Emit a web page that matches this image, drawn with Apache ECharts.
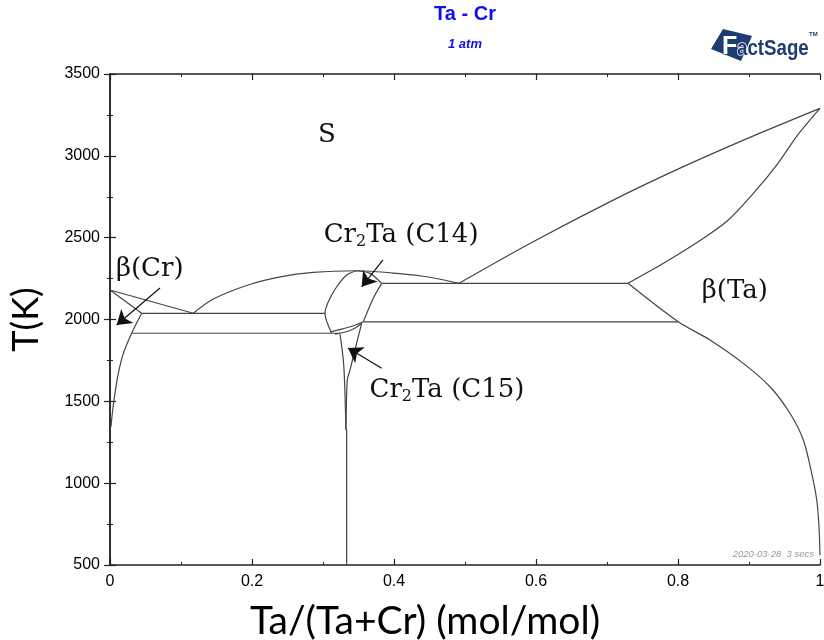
<!DOCTYPE html>
<html><head><meta charset="utf-8">
<script src="https://cdn.jsdelivr.net/npm/echarts@6/dist/echarts.min.js"></script>
<style>html,body{margin:0;padding:0;background:#fff}#c{width:824px;height:640px}</style>
</head><body><div id="c"></div>
<script>
// ---- data: phase boundaries as [x = Ta/(Ta+Cr), T in K] ----
const xTicks = [0, 0.2, 0.4, 0.6, 0.8, 1];
const yTicks = [500, 1000, 1500, 2000, 2500, 3000, 3500];

const liqCr      = [[0, 2180], [0.1173, 2038]];
const solidusCr  = [[0, 2180], [0.0446, 2038]];
const solvusCr   = [[0.0446, 2038], [0.0305, 1916], [0.0188, 1793], [0.0117, 1671], [0.007, 1549], [0.0038, 1447], [0.0014, 1345]];
const dome       = [[0.1173, 2038], [0.1455, 2125], [0.1925, 2208], [0.2394, 2260], [0.2863, 2288], [0.3475, 2298], [0.4038, 2282], [0.4507, 2258], [0.4915, 2221]];
const liqTa      = [[0.4915, 2221], [0.596, 2475], [0.7136, 2740], [0.8075, 2934], [0.9014, 3113], [1, 3290]];
const solidusTa  = [[0.7296, 2221], [0.78, 2345], [0.83, 2480], [0.87, 2605], [0.91, 2790], [0.94, 2950], [0.97, 3135], [1, 3290]];
const solvusTa   = [[0.7296, 2221], [0.8004, 1986], [0.845, 1875], [0.892, 1732], [0.9296, 1589], [0.9577, 1427], [0.9765, 1264], [0.9883, 1060], [0.9954, 897], [0.9986, 734], [1, 560]];
const c14Left    = [[0.3123, 1916], [0.3028, 2038], [0.3075, 2109], [0.3193, 2200], [0.3334, 2272], [0.3475, 2298]];
const c14Top     = [[0.3475, 2298], [0.3662, 2282], [0.3803, 2231], [0.3827, 2221]];
const c14Right   = [[0.3827, 2221], [0.3708, 2130], [0.3568, 1986]];
const c14Bottom  = [[0.31, 1925], [0.325, 1940], [0.343, 1962], [0.3568, 1986]];
const c15Top     = [[0.3169, 1911], [0.333, 1925], [0.346, 1950], [0.3545, 1977]];
const c15Left    = [[0.324, 1911], [0.3286, 1752], [0.3303, 1630], [0.3324, 1325]];
const c15Right   = [[0.3545, 1977], [0.345, 1814], [0.338, 1691], [0.3342, 1630], [0.3324, 1325]];
const cr2taLine  = [[0.3333, 1325], [0.3333, 500]];
const eutectic1  = [[0.0446, 2038], [0.3028, 2038]];
const eutectic2  = [[0.0305, 1916], [0.324, 1916]];
const peritectic = [[0.3827, 2221], [0.7296, 2221]];
const eutectoid  = [[0.3568, 1986], [0.8004, 1986]];

const arrows = [
  [[0.0704, 2192], [0.0094, 1966]],
  [[0.3845, 2364], [0.3545, 2200]],
  [[0.3827, 1702], [0.3352, 1826]]
];
const labels = [
  {name: 'S', value: [0.3056, 3127]},
  {name: 'β(Cr)', value: [0.056, 2309]},
  {name: 'Cr{s|2}Ta (C14)', value: [0.41, 2516]},
  {name: 'Cr{s|2}Ta (C15)', value: [0.4746, 1569]},
  {name: 'β(Ta)', value: [0.880, 2174]}
];

const boundaries = [liqCr, solidusCr, solvusCr, dome, liqTa, solidusTa, solvusTa, c14Left, c14Top, c14Right,
  c14Bottom, c15Top, c15Left, c15Right, cr2taLine, eutectic1, eutectic2, peritectic, eutectoid];
const curved = new Set([solvusCr, dome, liqTa, solidusTa, solvusTa, c14Left, c14Top, c14Right, c14Bottom, c15Top, c15Left, c15Right]);

const chart = echarts.init(document.getElementById('c'), null, {renderer: 'canvas'});
const axisCommon = {
  type: 'value',
  axisLine: {show: true, lineStyle: {color: '#222', width: 1.5}},
  axisTick: {show: true, inside: true, length: 6, lineStyle: {color: '#222', width: 1.2}},
  minorTick: {show: true, splitNumber: 2, length: 3, lineStyle: {color: '#222', width: 1}},
  splitLine: {show: false},
  minorSplitLine: {show: false}
};
const labelFont = {fontFamily: 'Liberation Sans', fontSize: 16, color: '#000'};

const series = boundaries.map(b => ({
  type: 'line', data: b, showSymbol: false, symbol: 'none', smooth: curved.has(b) ? 0.3 : false,
  lineStyle: {color: '#444', width: 1.2}, silent: true, animation: false, z: 3
}));
series.push({
  type: 'lines', coordinateSystem: 'cartesian2d', xAxisIndex: 0, yAxisIndex: 0,
  symbol: ['none', 'arrow'], symbolSize: 14,
  lineStyle: {color: '#111', width: 1.2, opacity: 1},
  data: arrows.map(a => ({coords: a})), animation: false, z: 4
});
series.push({
  type: 'scatter', data: labels, symbolSize: 1, itemStyle: {color: 'rgba(0,0,0,0)'}, animation: false, z: 5, silent: true,
  label: {
    show: true, position: 'inside', formatter: p => p.name,
    fontFamily: 'DejaVu Serif', fontSize: 26, color: '#111', opacity: 1,
    rich: {s: {fontFamily: 'DejaVu Serif', fontSize: 16, color: '#111', verticalAlign: 'bottom', padding: [13, 0, 0, 0]}}
  }
});

chart.setOption({
  animation: false,
  backgroundColor: '#fff',
  grid: {left: 110, right: 4, top: 74, bottom: 75, outerBoundsMode: 'none'},
  xAxis: [
    Object.assign({}, axisCommon, {
      position: 'bottom', min: 0, max: 1, interval: 0.2,
      axisLabel: Object.assign({margin: 9, formatter: v => xTicks.includes(+v.toFixed(1)) ? String(+v.toFixed(1)) : ''}, labelFont)
    }),
    Object.assign({}, axisCommon, {position: 'top', min: 0, max: 1, interval: 0.2, axisLabel: {show: false}})
  ],
  yAxis: [
    Object.assign({}, axisCommon, {
      position: 'left', min: 500, max: 3500, interval: 500,
      axisLabel: Object.assign({margin: 10, formatter: v => yTicks.includes(v) ? String(v) : ''}, labelFont),
      name: 'T(K)', nameLocation: 'middle', nameGap: 66, nameRotate: 90,
      nameTextStyle: {fontFamily: 'Lato', fontSize: 36, color: '#000'}
    }),
    Object.assign({}, axisCommon, {position: 'right', min: 500, max: 3500, interval: 500, axisLabel: {show: false}})
  ],
  series: series,
  graphic: [
    {type: 'text', x: 425, y: 621, style: {text: 'Ta/(Ta+Cr) (mol/mol)', fill: '#000', font: '39px Lato', textAlign: 'center', textVerticalAlign: 'middle'}},
    {type: 'text', x: 465, y: 4, style: {text: 'Ta - Cr', fill: '#1010e8', font: 'bold 20px "Liberation Sans"', textAlign: 'center'}},
    {type: 'text', x: 465, y: 38, style: {text: '1 atm', fill: '#1010e8', font: 'italic bold 13px "Liberation Sans"', textAlign: 'center'}},
    {type: 'text', x: 814, y: 549, style: {text: '2020-03-28  3 secs', fill: '#999', font: 'italic 9.5px "Liberation Sans"', textAlign: 'right'}},
    {type: 'polygon', shape: {points: [[723, 29], [752, 36], [741, 61], [711, 49]]}, style: {fill: '#1f3c72'}},
    {type: 'text', x: 722, y: 35, style: {text: 'F', fill: '#fff', stroke: '#1f3c72', lineWidth: 1, font: 'bold 25px "Liberation Sans"'}},
    {type: 'text', x: 737, y: 38, scaleX: 0.85, style: {text: 'actSage', fill: '#1f3c72', stroke: '#fff', lineWidth: 1.5, font: 'bold 22px "Liberation Sans"'}},
    {type: 'text', x: 809, y: 31, style: {text: 'TM', fill: '#1f3c72', font: 'bold 6px "Liberation Sans"'}}
  ]
});
</script></body></html>
